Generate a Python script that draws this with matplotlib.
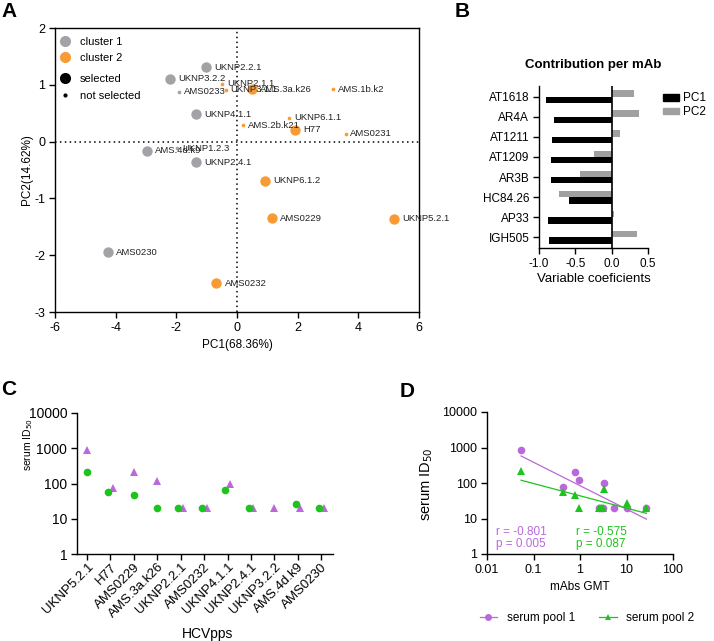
import numpy as np
import matplotlib
matplotlib.use("Agg")
import matplotlib.pyplot as plt
from matplotlib import ticker
from matplotlib.lines import Line2D
from matplotlib.patches import Patch

plt.rcParams["font.family"] = ["Liberation Sans", "DejaVu Sans"]
plt.rcParams["axes.unicode_minus"] = False
plt.rcParams["axes.linewidth"] = 1.0
plt.rcParams["xtick.major.width"] = 1.0
plt.rcParams["ytick.major.width"] = 1.0
plt.rcParams["xtick.major.size"] = 4.5
plt.rcParams["ytick.major.size"] = 4.5
plt.rcParams["xtick.major.pad"] = 2.5
plt.rcParams["ytick.major.pad"] = 2.5
plt.rcParams["xtick.labelsize"] = 8.5
plt.rcParams["ytick.labelsize"] = 8.5

GREY = "#a3a3a7"
ORANGE = "#f99b35"
PURPLE = "#ba68da"
GREEN = "#1dc41d"

# --- panel A: PCA scores
pca_names = ["UKNP2.2.1", "UKNP3.2.2", "AMS0233", "UKNP4.1.1", "AMS.4d.k9", "UKNP1.2.3",
             "UKNP2.4.1", "AMS0230", "UKNP2.1.1", "UKNP3.1.1", "AMS.3a.k26", "AMS.1b.k2",
             "UKNP6.1.1", "AMS.2b.k21", "H77", "AMS0231", "UKNP6.1.2", "AMS0229",
             "UKNP5.2.1", "AMS0232"]
pc1_score = [-1.01, -2.22, -1.90, -1.35, -2.97, -1.98, -1.34, -4.25, -0.48, -0.37, 0.49, 3.18,
             1.73, 0.21, 1.91, 3.58, 0.93, 1.15, 5.18, -0.68]
pc2_score = [1.31, 1.11, 0.88, 0.48, -0.16, -0.12, -0.36, -1.95, 1.02, 0.91, 0.92, 0.92,
             0.42, 0.29, 0.21, 0.14, -0.69, -1.35, -1.36, -2.49]
cluster = [1, 1, 1, 1, 1, 1, 1, 1, 2, 2, 2, 2, 2, 2, 2, 2, 2, 2, 2, 2]
selected = [1, 1, 0, 1, 1, 0, 1, 1, 0, 0, 1, 0, 0, 0, 1, 0, 1, 1, 1, 1]

# --- panel B: loadings
mabs = ["AT1618", "AR4A", "AT1211", "AT1209", "AR3B", "HC84.26", "AP33", "IGH505"]
load_pc1 = [-0.90, -0.79, -0.82, -0.84, -0.84, -0.59, -0.88, -0.86]
load_pc2 = [0.31, 0.37, 0.11, -0.25, -0.44, -0.72, 0.03, 0.35]

# --- panels C/D: neutralisation
hcvpps = ["UKNP5.2.1", "H77", "AMS0229", "AMS.3a.k26", "UKNP2.2.1", "AMS0232", "UKNP4.1.1",
          "UKNP2.4.1", "UKNP3.2.2", "AMS.4d.k9", "AMS0230"]
pool1 = [870, 77, 210, 118, 20, 20, 98, 20, 20, 20, 20]
pool2 = [215, 57, 46, 20, 20, 20, 67, 20, np.nan, 27, 20]
mabs_gmt = [0.054, 0.43, 0.78, 0.94, 2.6, 2.8, 3.3, 3.1, 5.4, 10, 26.8]
stats1 = ["r = -0.801", "p = 0.005"]
stats2 = ["r = -0.575", "p = 0.087"]

W, H = 714, 641
fig = plt.figure(figsize=(W / 100, H / 100), dpi=100)


def box(left, top, right, bottom):
    return [left / W, 1 - bottom / H, (right - left) / W, (bottom - top) / H]


# ---------------- A
axA = fig.add_axes(box(55, 28, 419, 312))
for c, col in [(1, GREY), (2, ORANGE)]:
    for sel, size in [(1, 56), (0, 7)]:
        idx = [i for i in range(len(pca_names)) if cluster[i] == c and selected[i] == sel]
        axA.scatter([pc1_score[i] for i in idx], [pc2_score[i] for i in idx],
                    s=size, color=col, zorder=3, linewidths=0)
for i, name in enumerate(pca_names):
    off = 6 if selected[i] else 3.5
    axA.annotate(name, (pc1_score[i], pc2_score[i]), xytext=(off, 0),
                 textcoords="offset points", va="center", ha="left",
                 fontsize=6.8, color="#222222", zorder=4)
axA.axhline(0, color="black", ls=(0, (1, 2.2)), lw=1.1, zorder=1)
axA.axvline(0, color="black", ls=(0, (1, 2.2)), lw=1.1, zorder=1)
axA.set_xlim(-6, 6)
axA.set_ylim(-3, 2)
axA.set_xticks([-6, -4, -2, 0, 2, 4, 6])
axA.set_yticks([-3, -2, -1, 0, 1, 2])
axA.tick_params(labelsize=9)
axA.set_xlabel("PC1(68.36%)", fontsize=8.5, labelpad=4)
axA.set_ylabel("PC2(14.62%)", fontsize=8.5, labelpad=1)
leg1 = axA.legend([Line2D([], [], ls="none", marker="o", ms=8, color=GREY, mew=0),
                   Line2D([], [], ls="none", marker="o", ms=8, color=ORANGE, mew=0)],
                  ["cluster 1", "cluster 2"], loc="center left",
                  bbox_to_anchor=(0.009, 0.9225), frameon=False, fontsize=8,
                  handlelength=1.2, handletextpad=0.75, labelspacing=0.6,
                  borderaxespad=0, borderpad=0)
axA.add_artist(leg1)
axA.legend([Line2D([], [], ls="none", marker="o", ms=8, color="black", mew=0),
            Line2D([], [], ls="none", marker="o", ms=3, color="black", mew=0)],
           ["selected", "not selected"], loc="center left",
           bbox_to_anchor=(0.009, 0.791), frameon=False, fontsize=8,
           handlelength=1.2, handletextpad=0.75, labelspacing=0.6,
           borderaxespad=0, borderpad=0)

# ---------------- B
axB = fig.add_axes(box(539, 86, 648, 248))
ypos = np.arange(len(mabs))
bh = 0.32
axB.barh(ypos - bh / 2, load_pc2, height=bh, color="#a0a0a0", label="PC2")
axB.barh(ypos + bh / 2, load_pc1, height=bh, color="black", label="PC1")
axB.axvline(0, color="black", lw=1.2)
axB.set_yticks(ypos)
axB.set_yticklabels(mabs)
axB.set_ylim(len(mabs) - 0.47, -0.53)
axB.set_xlim(-1.0, 0.5)
axB.set_xticks([-1.0, -0.5, 0.0, 0.5])
axB.xaxis.set_major_formatter(ticker.FormatStrFormatter("%.1f"))
axB.spines[["top", "right"]].set_visible(False)
axB.tick_params(labelsize=8.5)
axB.set_xlabel("Variable coeficients", fontsize=9.5, labelpad=2)
axB.set_title("Contribution per mAb", fontsize=9.5, fontweight="bold", pad=13)
axB.legend([Patch(color="black"), Patch(color="#a0a0a0")], ["PC1", "PC2"],
           loc="upper left", bbox_to_anchor=(1.14, 0.96), frameon=False,
           fontsize=8.5, handlelength=1.3, handleheight=0.5, labelspacing=0.15,
           handletextpad=0.35, borderaxespad=0, borderpad=0)

# ---------------- C
axC = fig.add_axes(box(77, 413, 333, 554))
xc = np.arange(len(hcvpps), dtype=float)
p1 = np.array(pool1, dtype=float)
p2 = np.array(pool2, dtype=float)
close = np.abs(np.log10(p1) - np.log10(np.where(np.isnan(p2), 1e9, p2))) < 0.25
shift = np.where(close, 0.1, 0.0)
axC.plot(xc + shift, p1, ls="none", marker="^", ms=5.5, color=PURPLE, mew=0)
axC.plot(xc - shift, p2, ls="none", marker="o", ms=5.5, color=GREEN, mew=0)
axC.set_yscale("log")
axC.set_ylim(1, 10000)
axC.set_yticks([1, 10, 100, 1000, 10000])
axC.yaxis.set_major_formatter(ticker.FormatStrFormatter("%g"))
axC.yaxis.set_minor_locator(ticker.NullLocator())
axC.set_xlim(-0.43, len(hcvpps) - 0.5)
axC.set_xticks(xc)
axC.set_xticklabels(hcvpps, rotation=45, ha="right", rotation_mode="anchor")
axC.tick_params(axis="y", labelsize=10)
axC.tick_params(axis="x", labelsize=9.5, pad=0.5)
axC.spines[["top", "right"]].set_visible(False)
axC.set_ylabel("serum ID$_{50}$", fontsize=7.5)
axC.yaxis.set_label_coords(-0.165, 0.775)
axC.set_xlabel("HCVpps", fontsize=10)
axC.xaxis.set_label_coords(0.51, -0.515)

# ---------------- D
axD = fig.add_axes(box(487, 412, 673, 554))
gmt = np.array(mabs_gmt)
for vals, col, mk in [(p1, PURPLE, "o"), (p2, GREEN, "^")]:
    ok = ~np.isnan(vals)
    slope, icpt = np.polyfit(np.log10(gmt[ok]), np.log10(vals[ok]), 1)
    xs = np.array([gmt[ok].min(), gmt[ok].max()])
    axD.plot(xs, 10 ** (icpt + slope * np.log10(xs)), color=col, lw=0.9)
    axD.plot(gmt[ok], vals[ok], ls="none", marker=mk, ms=5.5, color=col, mew=0)
axD.set_xscale("log")
axD.set_yscale("log")
axD.set_xlim(0.01, 100)
axD.set_ylim(1, 10000)
axD.set_xticks([0.01, 0.1, 1, 10, 100])
axD.set_yticks([1, 10, 100, 1000, 10000])
axD.xaxis.set_major_formatter(ticker.FormatStrFormatter("%g"))
axD.yaxis.set_major_formatter(ticker.FormatStrFormatter("%g"))
axD.xaxis.set_minor_locator(ticker.NullLocator())
axD.yaxis.set_minor_locator(ticker.NullLocator())
axD.tick_params(labelsize=9)
axD.spines[["top", "right"]].set_visible(False)
axD.set_xlabel("mAbs GMT", fontsize=8.5)
axD.set_ylabel("serum ID$_{50}$", fontsize=10.5)
axD.yaxis.set_label_coords(-0.28, 0.49)
for txt, col, xa in [(stats1, PURPLE, 0.05), (stats2, GREEN, 0.48)]:
    axD.text(xa, 0.157, txt[0], color=col, fontsize=8.5, transform=axD.transAxes, va="center")
    axD.text(xa, 0.068, txt[1], color=col, fontsize=8.5, transform=axD.transAxes, va="center")
d_handles = [Line2D([], [], color=PURPLE, marker="o", ms=5, lw=0.9, mew=0),
             Line2D([], [], color=GREEN, marker="^", ms=5, lw=0.9, mew=0)]
fig.legend(d_handles, ["serum pool 1", "serum pool 2"], loc="center",
           bbox_to_anchor=(587 / W, 1 - 618 / H), ncol=2, frameon=False,
           fontsize=8.5, handlelength=1.5, handletextpad=0.8, columnspacing=2.05)

# panel letters
for letter, x, y in [("A", 1, 17), ("B", 455, 17), ("C", 1, 395), ("D", 400, 397)]:
    fig.text(x / W, 1 - y / H, letter, fontsize=15, fontweight="bold", va="baseline")

fig.savefig("out.png", dpi=100)
